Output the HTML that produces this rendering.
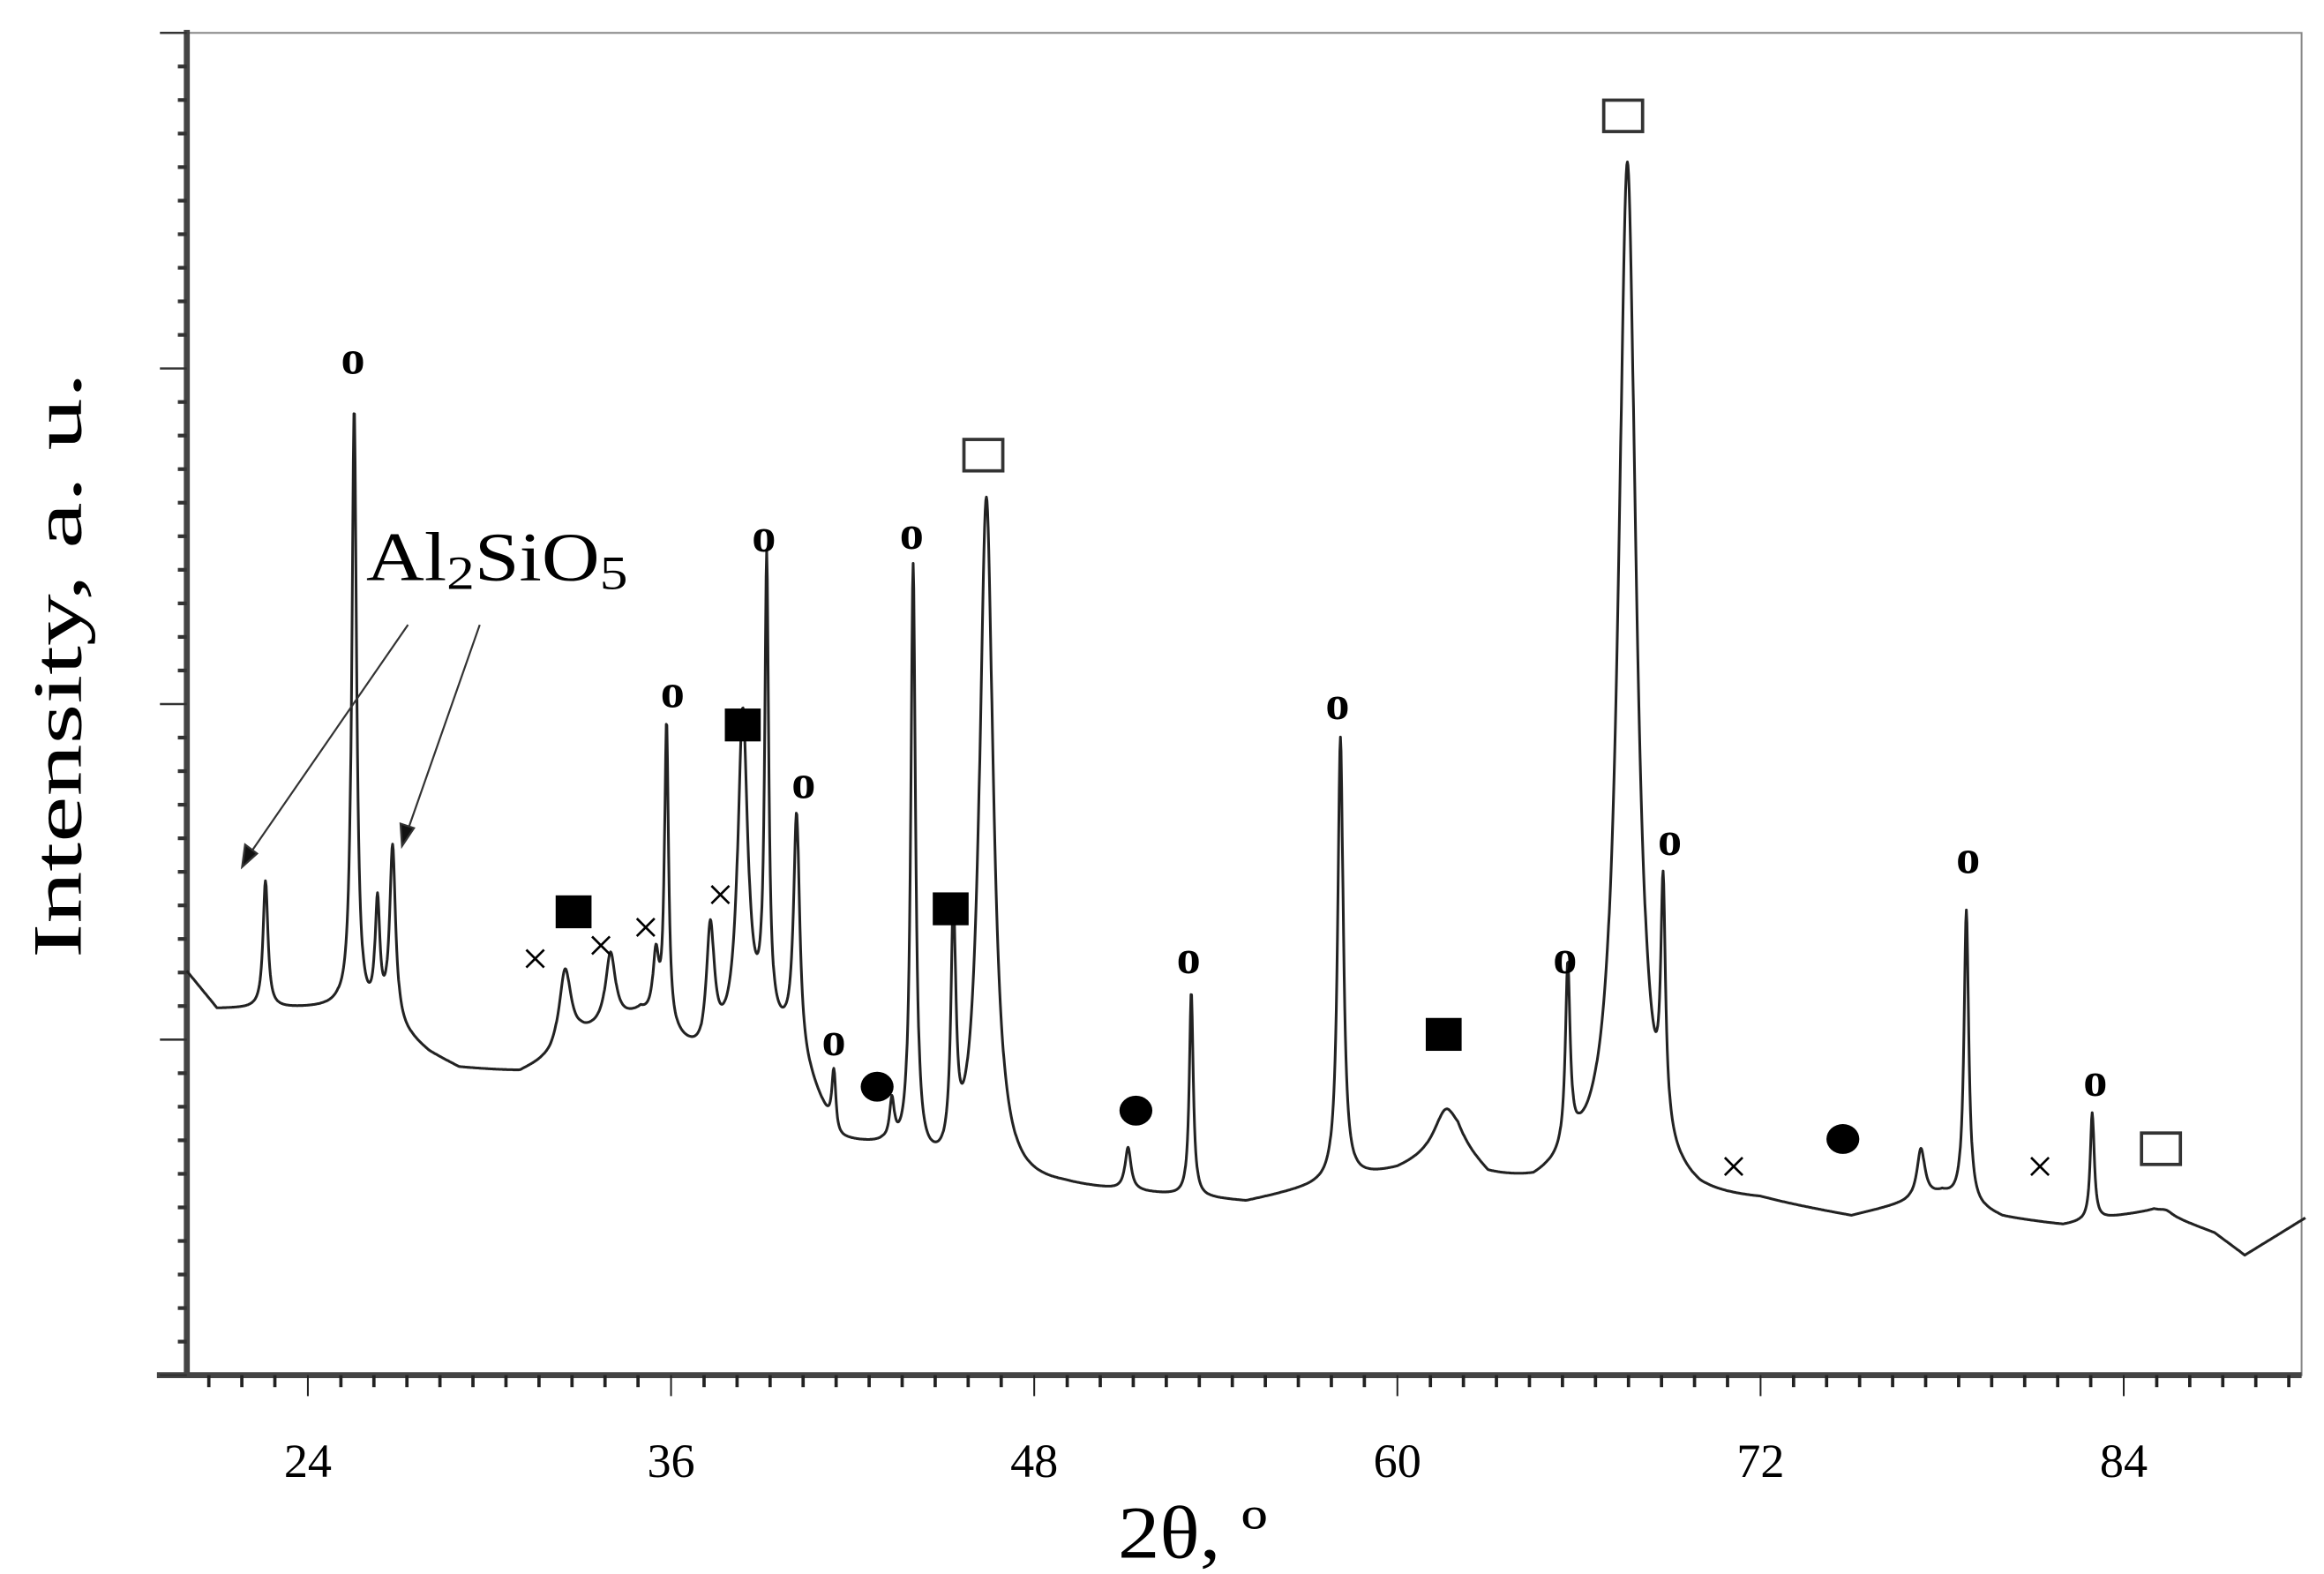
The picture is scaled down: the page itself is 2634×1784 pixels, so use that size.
<!DOCTYPE html>
<html><head><meta charset="utf-8"><style>
html,body{margin:0;padding:0;background:#fff;}
svg{display:block;}
text{font-family:"Liberation Serif",serif;fill:#000;}
</style></head><body>
<svg id="chart" width="2634" height="1784" viewBox="0 0 1555 1053" preserveAspectRatio="none" xmlns="http://www.w3.org/2000/svg">
<g id="axes"></g>
<g id="series"></g>
<g id="markers"></g>
<text transform="translate(54,445) rotate(-90)" text-anchor="middle" font-size="46" textLength="392" lengthAdjust="spacingAndGlyphs">Intensity, a. u.</text>
<text x="798" y="1042" text-anchor="middle" font-size="50" textLength="100" lengthAdjust="spacingAndGlyphs">2θ, º</text>
<text x="245" y="388" font-size="46" textLength="175" lengthAdjust="spacingAndGlyphs">Al<tspan font-size="32" dy="6">2</tspan><tspan dy="-6">SiO</tspan><tspan font-size="32" dy="6">5</tspan></text>
<g stroke="#333" stroke-width="1.3" fill="#111">
<line x1="273" y1="418" x2="168" y2="570"/><polygon points="162,580 164,565 172,571"/>
<line x1="321" y1="418" x2="273" y2="555"/><polygon points="269,566 268,551 277,554"/>
</g>
</svg>
<script>
// ---- data ----
const xTicks = [24, 36, 48, 60, 72, 84];
const baseX = [20, 21, 23, 25, 27, 28, 29, 31, 32, 33, 35, 37, 39, 40, 41.5, 43, 45, 47, 49, 52, 55, 58, 60, 62, 63, 64.5, 66, 70, 72, 75, 78, 80, 82, 85, 87, 88, 90];
const baseI = [270, 245, 245, 245, 230, 215, 205, 202, 210, 225, 240, 210, 230, 220, 155, 150, 130, 125, 125, 120, 115, 128, 135, 150, 130, 125, 135, 115, 115, 105, 120, 105, 100, 110, 95, 80, 105];
const peakPos = [22.6, 25.53, 26.3, 26.8, 32.5, 34.0, 35.5, 35.85, 37.3, 38.37, 39.16, 40.15, 41.38, 43.3, 44.0, 45.33, 46.42, 51.1, 53.19, 58.12, 61.6, 65.63, 67.6, 68.78, 74.5, 77.3, 78.8, 81.8, 82.96, 85.4];
const peakI = [330, 645, 310, 350, 270, 280, 275, 430, 295, 440, 535, 370, 200, 175, 535, 292, 585, 150, 255, 425, 175, 255, 810, 280, 105, 150, 310, 95, 175, 110];
const peakW = [0.12, 0.12, 0.12, 0.15, 0.3, 0.25, 0.15, 0.1, 0.2, 0.25, 0.1, 0.15, 0.1, 0.12, 0.12, 0.12, 0.35, 0.15, 0.1, 0.14, 0.6, 0.12, 0.45, 0.12, 0.25, 0.2, 0.12, 0.2, 0.1, 0.35];
const mkType = ['o','o','o','o','o','o','o','o','o','o','o','o','fsq','fsq','fsq','fsq','osq','osq','osq','fc','fc','fc','x','x','x','x','x','x'];
const mkX = [25.49,39.07,43.95,36.05,40.38,41.38,53.1,58.02,69.0,65.54,78.86,83.06,38.37,32.78,45.24,61.53,46.32,67.46,85.23,42.81,51.36,74.72,31.51,33.68,35.16,37.63,71.11,81.23];
const mkI = [679,560,562,456,395,223,278,448,357,278,345,196,435,310,312,228,616,843,152,193,177,158,277,286,298,320,138,138];
// ---- scales ----
const L=125,R=1540,T=22,B=920;
const X=v=>L+(v-20)*20.25;
const Y=v=>B-v;
const NS='http://www.w3.org/2000/svg';
function mk(tag,parent,attrs){const e=document.createElementNS(NS,tag);for(const k in attrs)e.setAttribute(k,attrs[k]);parent.appendChild(e);return e;}
const axes=document.getElementById('axes');
let fr=mk('rect',axes,{x:L,y:T,width:R-L,height:B-T,fill:'none',stroke:'#888','stroke-width':1.2});


let ya=mk('line',axes,{x1:L,y1:T-2,x2:L,y2:B,stroke:'#444','stroke-width':4});


let xa=mk('line',axes,{x1:L-20,y1:B,x2:R,y2:B,stroke:'#444','stroke-width':4});


for(let i=0;i<=40;i++){const y=B-i*22.45;if(y<T-1)break;const major=i%10===0;
 let t=mk('line',axes,{x1:L-(major?18:6),y1:y,x2:L,y2:y,stroke:'#333','stroke-width':major?1.5:2.5});
 
 }
const step=12/11;
for(let k=-4;k<=62;k++){const v=24+k*step;if(v<20.3||v>89.8)continue;const major=k%11===0;
 let t=mk('line',axes,{x1:X(v),y1:B,x2:X(v),y2:B+(major?14:8),stroke:'#222','stroke-width':major?1.2:2.2});
 
 }
xTicks.forEach(v=>{let t=mk('text',axes,{x:X(v),y:988,'text-anchor':'middle','font-size':32});t.textContent=v;
 
 });
function base(v){for(let i=0;i<baseX.length-1;i++){if(v<=baseX[i+1]){const f=(v-baseX[i])/(baseX[i+1]-baseX[i]);return baseI[i]+f*(baseI[i+1]-baseI[i]);}}return baseI[baseI.length-1];}
function inten(v){let b=base(v),s=0;for(let i=0;i<peakPos.length;i++){const h=Math.max(0,peakI[i]-base(peakPos[i]));const d=(v-peakPos[i])/peakW[i];s+=h/(1+d*d*1.6);}return b+s;}
let pts=[];for(let v=20;v<=90;v+=0.02){pts.push(X(v).toFixed(1)+','+Y(inten(v)).toFixed(1));}
const ser=document.getElementById('series');
let pl=mk('polyline',ser,{points:pts.join(' '),fill:'none',stroke:'#222','stroke-width':1.8,'stroke-linejoin':'round'});


const mg=document.getElementById('markers');
mkType.forEach((t,i)=>{const x=X(mkX[i]),y=Y(mkI[i]);let e;
 if(t==='o'){e=mk('text',mg,{x:x,y:y+9,'text-anchor':'middle','font-size':32,'font-weight':'bold'});e.textContent='o';}
 else if(t==='fsq'){e=mk('rect',mg,{x:x-12,y:y-11,width:24,height:22,fill:'#000'});}
 else if(t==='osq'){e=mk('rect',mg,{x:x-13,y:y-10,width:26,height:21,fill:'#fff',stroke:'#333','stroke-width':2.2});}
 else if(t==='fc'){e=mk('ellipse',mg,{cx:x,cy:y,rx:11,ry:10,fill:'#000'});}
 else {e=mk('text',mg,{x:x,y:y+9,'text-anchor':'middle','font-size':32});e.textContent='×';}
 
 });
</script>
</body></html>
